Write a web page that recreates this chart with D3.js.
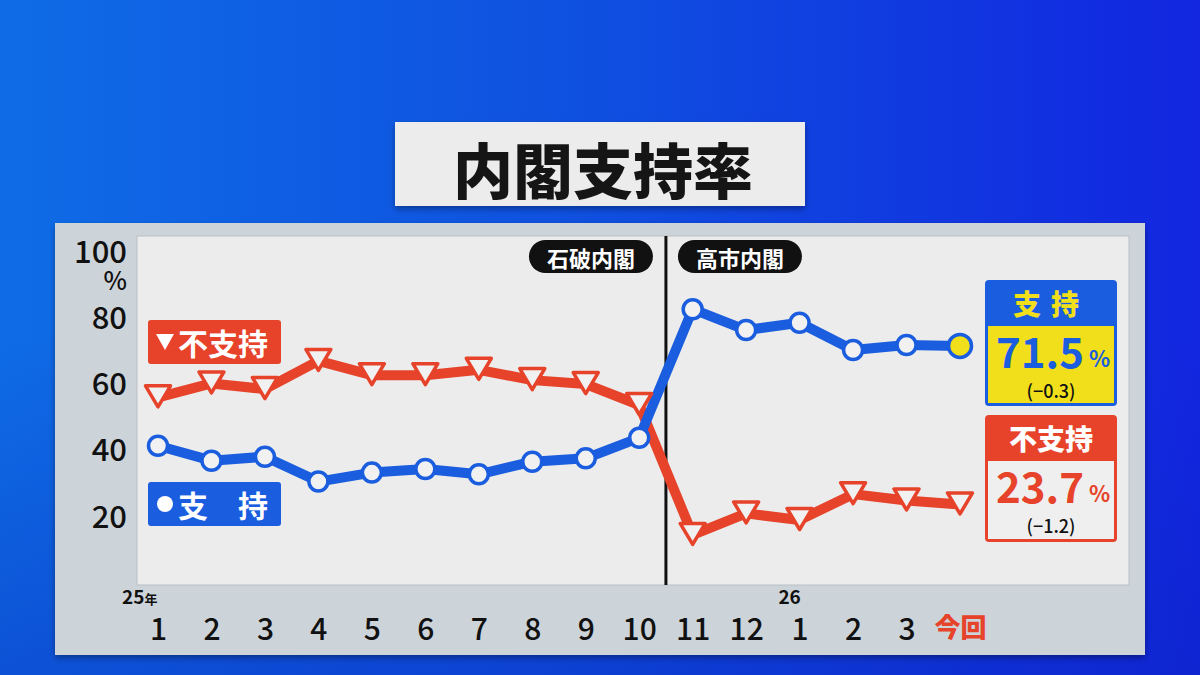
<!DOCTYPE html>
<html><head><meta charset="utf-8">
<script src="https://cdn.jsdelivr.net/npm/d3@7/dist/d3.min.js"></script>
<style>body{margin:0;overflow:hidden;background:#0a2ccf} svg{display:block}</style>
</head><body><svg id="c" width="1200" height="675"></svg>
<script>
// ---- data ----
const months = ["1","2","3","4","5","6","7","8","9","10","11","12","1","2","3","今回"];
const support = [41.4, 36.9, 38.1, 30.6, 33.3, 34.4, 32.8, 36.6, 37.6, 43.8, 82.6, 76.3, 78.5, 70.3, 71.8, 71.5];
const nonSupport = [56.0, 60.2, 58.5, 67.0, 62.7, 62.7, 64.3, 61.2, 60.0, 53.7, 14.5, 21.0, 19.0, 26.8, 24.9, 23.7];
const yTicks = [20, 40, 60, 80, 100];
const cabinets = ["石破内閣", "高市内閣"];
const yearLabels = ["25", "26"];
const latestSupport = ["71.5", "(−0.3)"];
const latestNon = ["23.7", "(−1.2)"];

const FONT = "'Noto Sans CJK JP','Noto Sans',sans-serif";
const RED = "#e6432a", BLUE = "#1a5ddf", YEL = "#f1df1b";

const svg = d3.select("#c");
const defs = svg.append("defs");
const lg = defs.append("linearGradient").attr("id","bg").attr("x1",0).attr("y1",0).attr("x2",1).attr("y2",0);
lg.append("stop").attr("offset",0).attr("stop-color","#0f6ce6");
lg.append("stop").attr("offset",0.5).attr("stop-color","#0f4fe0");
lg.append("stop").attr("offset",1).attr("stop-color","#1226e0");
const vg = defs.append("linearGradient").attr("id","vg").attr("x1",0).attr("y1",0).attr("x2",0).attr("y2",1);
vg.append("stop").attr("offset",0.5).attr("stop-color","#0822b8").attr("stop-opacity",0);
vg.append("stop").attr("offset",1).attr("stop-color","#0822b8").attr("stop-opacity",0.35);
const sh = defs.append("filter").attr("id","sh").attr("x",-0.1).attr("y",-0.1).attr("width",1.2).attr("height",1.3);
sh.append("feDropShadow").attr("dx",0).attr("dy",3).attr("stdDeviation",3).attr("flood-color","#000").attr("flood-opacity",0.35);

svg.append("rect").attr("width",1200).attr("height",675).attr("fill","url(#bg)");
svg.append("rect").attr("width",1200).attr("height",675).attr("fill","url(#vg)");

// title
svg.append("rect").attr("x",395).attr("y",122).attr("width",410).attr("height",84).attr("fill","#ececec").attr("filter","url(#sh)");
svg.append("text").attr("x",603).attr("y",167).attr("text-anchor","middle").attr("dominant-baseline","central")
  .attr("font-family",FONT).attr("font-weight",900).attr("font-size",60).attr("fill","#151515").text("内閣支持率");

// panel
svg.append("rect").attr("x",55).attr("y",223).attr("width",1090).attr("height",432).attr("fill","#cdd4d9").attr("filter","url(#sh)");
svg.append("rect").attr("x",137).attr("y",236).attr("width",992).attr("height",349).attr("fill","#ececec")
  .attr("stroke","#b9c0c5").attr("stroke-width",1);

const x = d3.scalePoint().domain(d3.range(months.length)).range([158, 960]);
const y = d3.scaleLinear().domain([0, 100]).range([583, 251.5]);

// y axis
const ya = svg.append("g").attr("transform","translate(127,0)")
  .call(d3.axisLeft(y).tickValues(yTicks).tickSize(0).tickPadding(0));
ya.select(".domain").remove();
ya.selectAll("text").attr("font-family",FONT).attr("font-size",31).attr("font-weight",500).attr("fill","#111").attr("dy","0.34em");
svg.append("text").attr("x",127).attr("y",290).attr("text-anchor","end")
  .attr("font-family",FONT).attr("font-size",25).attr("font-weight",500).attr("fill","#111").text("%");

// x axis
const xa = svg.append("g").attr("transform","translate(0,619)")
  .call(d3.axisBottom(x).tickFormat(i => months[i]).tickSize(0).tickPadding(0));
xa.select(".domain").remove();
xa.selectAll("text").attr("font-family",FONT)
  .attr("fill",(d,i) => i === months.length-1 ? RED : "#111")
  .attr("font-weight",(d,i) => i === months.length-1 ? 900 : 500)
  .attr("font-size",(d,i) => i === months.length-1 ? 26 : 30);
// year labels
const yl = svg.append("text").attr("x",x(0)-36).attr("y",604).attr("font-family",FONT).attr("font-weight",700).attr("fill","#111");
yl.append("tspan").attr("font-size",19).text(yearLabels[0]);
yl.append("tspan").attr("font-size",13).text("年");
svg.append("text").attr("x",x(12)-10).attr("y",604).attr("text-anchor","middle").attr("font-family",FONT).attr("font-weight",700)
  .attr("font-size",19).attr("fill","#111").text(yearLabels[1]);

// divider
const divX = (x(9) + x(10)) / 2;
svg.append("line").attr("x1",divX).attr("x2",divX).attr("y1",236).attr("y2",585).attr("stroke","#111").attr("stroke-width",3);

// cabinet pills
const pills = [{t:cabinets[0], cx: divX - 75}, {t:cabinets[1], cx: divX + 74}];
pills.forEach(p => {
  svg.append("rect").attr("x",p.cx-62).attr("y",240).attr("width",124).attr("height",33).attr("rx",16.5).attr("fill","#111");
  svg.append("text").attr("x",p.cx).attr("y",257).attr("text-anchor","middle").attr("dominant-baseline","central")
    .attr("font-family",FONT).attr("font-weight",700).attr("font-size",22).attr("fill","#fff").text(p.t);
});

// lines
const line = d3.line().x((d,i) => x(i)).y(d => y(d));
svg.append("path").datum(nonSupport).attr("d",line).attr("fill","none").attr("stroke",RED).attr("stroke-width",10).attr("stroke-linejoin","round");
svg.append("path").datum(support).attr("d",line).attr("fill","none").attr("stroke",BLUE).attr("stroke-width",10).attr("stroke-linejoin","round");

// triangle markers
const tri = (cx, cy, w, h) => `M${cx-w/2},${cy-h/2}L${cx+w/2},${cy-h/2}L${cx},${cy+h/2}Z`;
svg.append("g").selectAll("path").data(nonSupport).join("path")
  .attr("d",(d,i) => tri(x(i), y(d)-1, 25, 21))
  .attr("fill","#f1f1f1").attr("stroke",RED).attr("stroke-width",3.5).attr("stroke-linejoin","round");
// circle markers
svg.append("g").selectAll("circle").data(support).join("circle")
  .attr("cx",(d,i) => x(i)).attr("cy",d => y(d))
  .attr("r",(d,i) => i === support.length-1 ? 11.5 : 9.5)
  .attr("fill",(d,i) => i === support.length-1 ? YEL : "#f1f1f1")
  .attr("stroke",BLUE).attr("stroke-width",3.5);

// legend boxes
svg.append("rect").attr("x",148).attr("y",320).attr("width",133).attr("height",44).attr("rx",3).attr("fill",RED);
svg.append("path").attr("d",tri(165,342,18,16)).attr("fill","#fff");
svg.append("text").attr("x",178).attr("y",342).attr("dominant-baseline","central").attr("font-family",FONT)
  .attr("font-weight",700).attr("font-size",30).attr("fill","#fff").text("不支持");
svg.append("rect").attr("x",148).attr("y",482).attr("width",133).attr("height",44).attr("rx",3).attr("fill",BLUE);
svg.append("circle").attr("cx",165).attr("cy",504).attr("r",8).attr("fill","#fff");
svg.append("text").attr("x",178).attr("y",504).attr("dominant-baseline","central").attr("font-family",FONT)
  .attr("font-weight",700).attr("font-size",30).attr("fill","#fff").text("支　持");

// right result boxes
svg.append("rect").attr("x",985).attr("y",280).attr("width",132).attr("height",126).attr("rx",4).attr("fill",BLUE);
svg.append("rect").attr("x",988).attr("y",326).attr("width",126).attr("height",77).attr("fill",YEL);
svg.append("text").attr("x",1051).attr("y",303).attr("text-anchor","middle").attr("dominant-baseline","central")
  .attr("font-family",FONT).attr("font-weight",900).attr("font-size",28).attr("fill",YEL).attr("letter-spacing",10).text("支持");
svg.append("text").attr("x",1084).attr("y",368).attr("text-anchor","end").attr("font-family",FONT).attr("font-weight",700)
  .attr("font-size",42).attr("fill",BLUE).text(latestSupport[0]);
svg.append("text").attr("x",1089).attr("y",367).attr("font-family",FONT).attr("font-weight",700)
  .attr("font-size",22).attr("fill",BLUE).text("%");
svg.append("text").attr("x",1051).attr("y",398).attr("text-anchor","middle").attr("font-family",FONT).attr("font-weight",500)
  .attr("font-size",18).attr("fill","#111").text(latestSupport[1]);

svg.append("rect").attr("x",985).attr("y",415).attr("width",132).attr("height",127).attr("rx",4).attr("fill",RED);
svg.append("rect").attr("x",988).attr("y",461).attr("width",126).attr("height",78).attr("fill","#efefef");
svg.append("text").attr("x",1051).attr("y",438).attr("text-anchor","middle").attr("dominant-baseline","central")
  .attr("font-family",FONT).attr("font-weight",900).attr("font-size",28).attr("fill","#fff").text("不支持");
svg.append("text").attr("x",1084).attr("y",503).attr("text-anchor","end").attr("font-family",FONT).attr("font-weight",700)
  .attr("font-size",42).attr("fill",RED).text(latestNon[0]);
svg.append("text").attr("x",1089).attr("y",502).attr("font-family",FONT).attr("font-weight",700)
  .attr("font-size",22).attr("fill",RED).text("%");
svg.append("text").attr("x",1051).attr("y",533).attr("text-anchor","middle").attr("font-family",FONT).attr("font-weight",500)
  .attr("font-size",18).attr("fill","#111").text(latestNon[1]);
</script>
</body></html>
